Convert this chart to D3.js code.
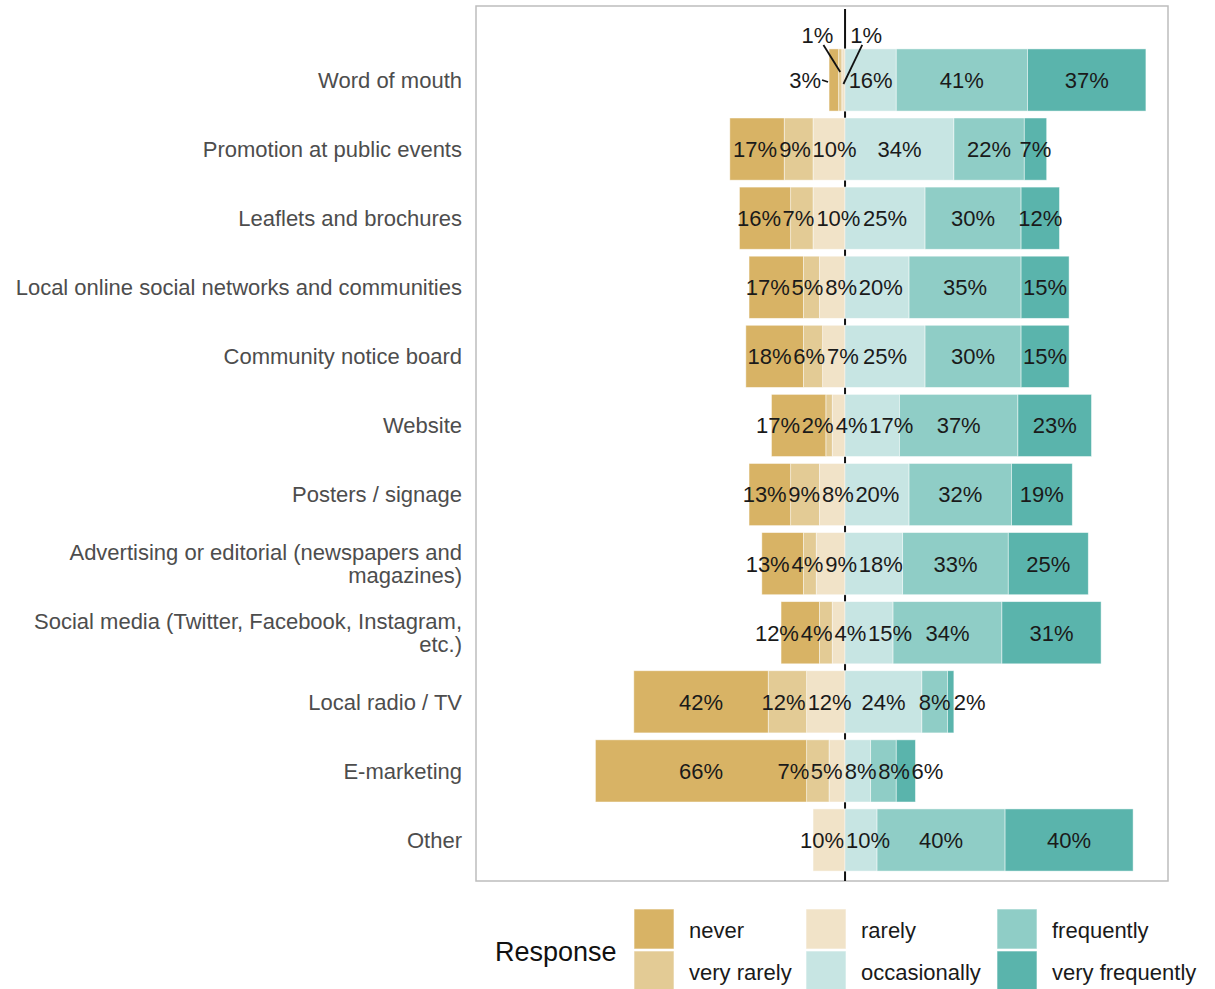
<!DOCTYPE html>
<html>
<head>
<meta charset="utf-8">
<script src="https://cdn.jsdelivr.net/npm/d3@7"></script>
<style>
  body { margin: 0; background: #fff; }
  text { font-family: "Liberation Sans", Arial, Helvetica, sans-serif; }
</style>
</head>
<body>
<div id="chart"></div>
<script>
var categories = ["Word of mouth", "Promotion at public events", "Leaflets and brochures",
    "Local online social networks and communities", "Community notice board", "Website",
    "Posters / signage", "Advertising or editorial (newspapers and\nmagazines)",
    "Social media (Twitter, Facebook, Instagram,\netc.)", "Local radio / TV", "E-marketing", "Other"];

var never          = [ 3, 17, 16, 17, 18, 17, 13, 13, 12, 42, 66,  0];
var veryRarely     = [ 1,  9,  7,  5,  6,  2,  9,  4,  4, 12,  7,  0];
var rarely         = [ 1, 10, 10,  8,  7,  4,  8,  9,  4, 12,  5, 10];
var occasionally   = [16, 34, 25, 20, 25, 17, 20, 18, 15, 24,  8, 10];
var frequently     = [41, 22, 30, 35, 30, 37, 32, 33, 34,  8,  8, 40];
var veryFrequently = [37,  7, 12, 15, 15, 23, 19, 25, 31,  2,  6, 40];

var responses = ["never", "very rarely", "rarely", "occasionally", "frequently", "very frequently"];
var colors = ["#d8b365", "#e3cb95", "#f1e3c8", "#c7e5e3", "#8fcdc6", "#5ab4ac"];

var W = 1215, H = 989;
var panel = {left: 476, right: 1168, top: 6, bottom: 881};

var svg = d3.select("#chart")
    .append("svg")
    .attr("width", W)
    .attr("height", H);

// rows: negatives on the left so the diverging stack puts them left of zero
var rows = categories.map(function(c, i) {
    return {
        cat: c,
        "never": -never[i],
        "very rarely": -veryRarely[i],
        "rarely": -rarely[i],
        "occasionally": occasionally[i],
        "frequently": frequently[i],
        "very frequently": veryFrequently[i]
    };
});

// stack order from zero outwards
var stackKeys = ["rarely", "very rarely", "never", "occasionally", "frequently", "very frequently"];
var series = d3.stack().keys(stackKeys).offset(d3.stackOffsetDiverging)(rows);

var x = d3.scaleLinear().domain([-115.3, 100.9]).range([panel.left, panel.right]);
var y = d3.scaleBand().domain(categories)
    .range([45.45, 874.55]).paddingInner(0.1).paddingOuter(0.05);
var color = d3.scaleOrdinal().domain(responses).range(colors);

// panel border
svg.append("rect")
    .attr("x", panel.left).attr("y", panel.top)
    .attr("width", panel.right - panel.left).attr("height", panel.bottom - panel.top)
    .attr("fill", "none").attr("stroke", "#bdbdbd").attr("stroke-width", 1.5);

// zero line (under the bars)
svg.append("line")
    .attr("x1", x(0)).attr("x2", x(0))
    .attr("y1", panel.top + 3).attr("y2", panel.bottom)
    .attr("stroke", "#111").attr("stroke-width", 2);

// bars
svg.selectAll(".layer")
    .data(series)
    .enter()
    .append("g")
    .attr("class", "layer")
    .attr("fill", function(d) { return color(d.key); })
    .selectAll("rect")
    .data(function(d) { return d; })
    .enter()
    .append("rect")
    .attr("x", function(d) { return x(Math.min(d[0], d[1])); })
    .attr("y", function(d) { return y(d.data.cat); })
    .attr("width", function(d) { return Math.abs(x(d[1]) - x(d[0])); })
    .attr("height", y.bandwidth())
    .attr("stroke", "#ffffff")
    .attr("stroke-opacity", 0.6)
    .attr("stroke-width", 0.8);

// y labels
var yAxis = svg.append("g");
categories.forEach(function(c) {
    var lines = c.split("\n");
    var cy = y(c) + y.bandwidth() / 2;
    var t = yAxis.append("text")
        .attr("text-anchor", "end")
        .attr("fill", "#4d4d4d")
        .style("font-size", "22px");
    lines.forEach(function(l, k) {
        t.append("tspan")
            .attr("x", 462)
            .attr("y", cy + (k - (lines.length - 1) / 2) * 23)
            .attr("dy", "0.36em")
            .text(l);
    });
});

// --- percentage labels with a simple repel ---
var measure = svg.append("text").style("font-size", "22px").attr("visibility", "hidden");
function textWidth(s) { measure.text(s); return measure.node().getComputedTextLength(); }

var pad = 2;
var labelG = svg.append("g");
categories.forEach(function(c, i) {
    var items = [];
    series.forEach(function(s) {
        var d = s[i];
        var v = Math.abs(d[1] - d[0]);
        if (v <= 0) return;
        var lo = Math.min(d[0], d[1]), hi = Math.max(d[0], d[1]);
        items.push({
            key: s.key, v: v, lo: lo, hi: hi,
            cx: x((lo + hi) / 2),
            segW: x(hi) - x(lo),
            text: Math.round(v) + "%",
            w: textWidth(Math.round(v) + "%")
        });
    });
    var barTop = y(c), mid = y(c) + y.bandwidth() / 2;
    var minLo = d3.min(items, function(d) { return d.lo; });
    var maxHi = d3.max(items, function(d) { return d.hi; });

    var above = [], inside = [];
    items.forEach(function(d) {
        d.y = mid;
        if (d.v < 2) { above.push(d); return; }
        if (d.w > d.segW * 2 && (d.lo === minLo || d.hi === maxHi)) {
            if (d.lo === minLo && d.lo < 0) d.x = x(d.lo) - 8 - d.w / 2;
            else d.x = x(d.hi) + d.w / 2;
            d.outside = true;
            return;
        }
        d.x = d.cx;
        inside.push(d);
    });

    // tiny values go above the bar, spread sideways
    if (above.length) {
        above.sort(function(a, b) { return a.cx - b.cx; });
        var mean = d3.mean(above, function(d) { return d.cx; });
        var step = d3.max(above, function(d) { return d.w; }) + 17;
        above.forEach(function(d, k) {
            d.x = mean + (k - (above.length - 1) / 2) * step;
            d.y = barTop - 14;
            d.leader = [d.x + (d.x < mean ? 6 : -4), d.y + 10, d.cx, mid - 8 + k * 12];
        });
    }

    // push overlapping labels apart along x
    inside.sort(function(a, b) { return a.cx - b.cx; });
    for (var it = 0; it < 200; it++) {
        var moved = false;
        for (var k = 0; k < inside.length - 1; k++) {
            var a = inside[k], b = inside[k + 1];
            var ov = (a.x + a.w / 2 + pad) - (b.x - b.w / 2);
            if (ov > 0.5) {
                a.x -= ov / 2; b.x += ov / 2;
                moved = true;
            }
        }
        if (!moved) break;
    }

    items.forEach(function(d) {
        if (d.outside && Math.abs(d.x - d.cx) > 20 && d.lo < 0) {
            d.leader = [d.x + d.w / 2 + 1, mid, x(d.lo) - 1, mid + 2];
        }
        if (d.leader) {
            labelG.append("line")
                .attr("x1", d.leader[0]).attr("y1", d.leader[1])
                .attr("x2", d.leader[2]).attr("y2", d.leader[3])
                .attr("stroke", "#111").attr("stroke-width", 1.8);
        }
        labelG.append("text")
            .attr("x", d.x).attr("y", d.y)
            .attr("dy", "0.36em")
            .attr("text-anchor", "middle")
            .attr("fill", "#1a1a1a")
            .style("font-size", "22px")
            .text(d.text);
    });
});
measure.remove();

// legend
var legend = svg.append("g");
legend.append("text")
    .attr("x", 495).attr("y", 951).attr("dy", "0.36em")
    .attr("fill", "#111")
    .style("font-size", "27px")
    .text("Response");
var colX = [634, 806, 997];
responses.forEach(function(r, k) {
    var col = Math.floor(k / 2), row = k % 2;
    var sy = 909 + row * 42;
    legend.append("rect")
        .attr("x", colX[col]).attr("y", sy)
        .attr("width", 40).attr("height", 40)
        .attr("fill", color(r))
        .attr("stroke", "#fff").attr("stroke-opacity", 0.6);
    legend.append("text")
        .attr("x", colX[col] + 55).attr("y", sy + 21).attr("dy", "0.36em")
        .attr("fill", "#1a1a1a")
        .style("font-size", "22px")
        .text(r);
});
</script>
</body>
</html>
